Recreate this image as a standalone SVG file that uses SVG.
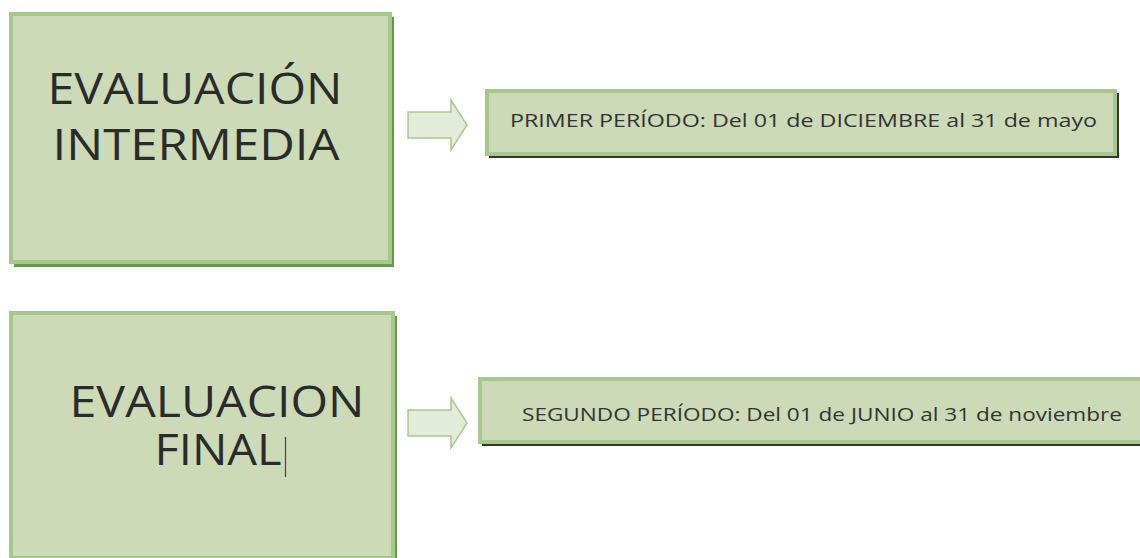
<svg xmlns="http://www.w3.org/2000/svg" width="1140" height="558" viewBox="0 0 1140 558">
<defs>
<style>
.box{fill:#ccdab8;stroke:#a8c78c;stroke-width:4}
.gshadow{fill:#68994a}
.dshadow{fill:#2f3a2a}
.arrow{fill:#e3ecdb;stroke:#a8c78c;stroke-width:1.5}
.big{font-family:"Open Sans","Liberation Sans",sans-serif;font-size:44px;fill:#2b2b2b}
.small{font-family:"Open Sans","Liberation Sans",sans-serif;font-size:18.5px;fill:#333333}
</style>
</defs>
<rect width="1140" height="558" fill="#ffffff"/>
<g id="node-intermedia">
<rect class="gshadow" x="14" y="17" width="380" height="250"/>
<rect class="box" x="11" y="14" width="379" height="248"/>
<text class="big" x="195" y="104" text-anchor="middle" textLength="295" lengthAdjust="spacingAndGlyphs">EVALUACIÓN</text>
<text class="big" x="196" y="160" text-anchor="middle" textLength="287" lengthAdjust="spacingAndGlyphs">INTERMEDIA</text>
</g>
<g id="node-primer">
<rect class="dshadow" x="489" y="93" width="630" height="65"/>
<rect class="box" x="487" y="91" width="628" height="63"/>
<text class="small" x="510" y="127" textLength="587" lengthAdjust="spacingAndGlyphs">PRIMER PERÍODO: Del 01 de DICIEMBRE al 31 de mayo</text>
</g>
<g id="node-final">
<rect class="gshadow" x="14" y="316" width="383" height="245"/>
<rect class="box" x="11" y="313" width="382" height="245"/>
<text class="big" x="217" y="417" text-anchor="middle" textLength="295" lengthAdjust="spacingAndGlyphs">EVALUACION</text>
<text class="big" x="218" y="465" text-anchor="middle" textLength="127" lengthAdjust="spacingAndGlyphs">FINAL</text>
<line x1="285.5" y1="437" x2="285.5" y2="477" stroke="#4a3f55" stroke-width="1.2"/>
</g>
<g id="node-segundo">
<rect class="dshadow" x="482" y="381" width="660" height="65"/>
<rect class="box" x="480" y="379" width="662" height="63"/>
<text class="small" x="522" y="421" textLength="600" lengthAdjust="spacingAndGlyphs">SEGUNDO PERÍODO: Del 01 de JUNIO al 31 de noviembre</text>
</g>
<g id="connectors">
<path class="arrow" d="M408,112 L451,112 L451,100 L467,125 L451,150 L451,138 L408,138 Z"/>
<path class="arrow" d="M408,410 L451,410 L451,398 L467,423 L451,448 L451,436 L408,436 Z"/>
</g>
</svg>
